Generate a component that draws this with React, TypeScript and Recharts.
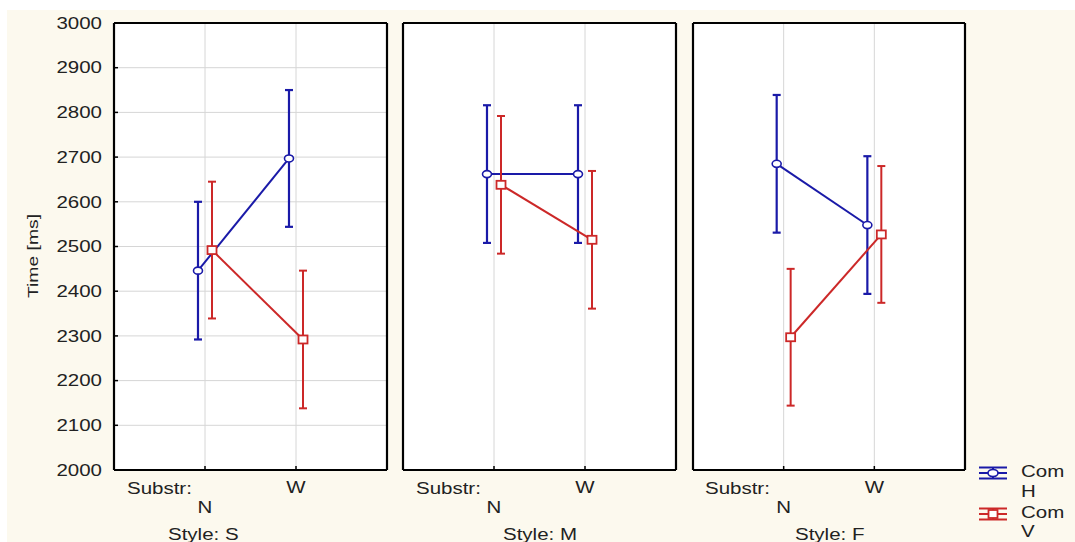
import React from 'react';
import { CartesianGrid, ComposedChart, ErrorBar, Line, XAxis, YAxis } from 'recharts';

const styles = ['S', 'M', 'F'];
const levels = ['N', 'W'];
const yTicks = [2000, 2100, 2200, 2300, 2400, 2500, 2600, 2700, 2800, 2900, 3000];

// means per style (S, M, F), each over levels N, W
const hMeans = [
  [2446, 2697],
  [2662, 2662],
  [2685, 2548]
];
const vMeans = [
  [2492, 2292],
  [2638, 2515],
  [2297, 2527]
];
const hErr = [
  [154, 153],
  [154, 154],
  [154, 154]
];
const vErr = [
  [153, 154],
  [154, 154],
  [153, 153]
];

const palette = {
  blue: '#1a1aa8',
  red: '#cc2828',
  ink: '#222',
  grid: '#d6d6d6',
  paper: '#fcf9ee'
};

const font = '"Liberation Sans", Arial, sans-serif';
const stretch = 1.28;
const jitter = 0.077;

const buildSeries = (means: number[], errs: number[], shift: number) =>
  levels.map((lv, i) => ({ x: i + 1 + shift, level: lv, mean: means[i], err: errs[i] }));

const YTick = (props: any) => {
  const { x, y, payload } = props;
  return (
    <text
      transform={`translate(${x},${y}) scale(${stretch},1)`}
      textAnchor="end"
      dy="0.36em"
      fontSize={16}
      fontFamily={font}
      fill={palette.ink}
    >
      {payload.value}
    </text>
  );
};

const XTick = (props: any) => {
  const { x, payload } = props;
  const label = levels[Math.round(payload.value) - 1];
  const yy = label === 'N' ? 507.5 : 487.5;
  return (
    <text
      transform={`translate(${x},${yy}) scale(${stretch},1)`}
      textAnchor="middle"
      dy="0.36em"
      fontSize={16}
      fontFamily={font}
      fill={palette.ink}
    >
      {label}
    </text>
  );
};

const BlueDot = (props: any) => {
  const { cx, cy } = props;
  if (cx == null || cy == null) return null;
  return <ellipse cx={cx} cy={cy} rx={4.5} ry={3.5} fill="#fff" stroke={palette.blue} strokeWidth={1.6} />;
};

const RedDot = (props: any) => {
  const { cx, cy } = props;
  if (cx == null || cy == null) return null;
  return <rect x={cx - 4.5} y={cy - 4} width={9} height={8} fill="#fff" stroke={palette.red} strokeWidth={1.8} />;
};

const border = { stroke: '#000', strokeWidth: 2.2 };
const tickMark = { stroke: '#000', strokeWidth: 1.5 };

function Panel({ idx, left, width, showY }: { idx: number; left: number; width: number; showY: boolean }) {
  const blue = buildSeries(hMeans[idx], hErr[idx], -jitter);
  const red = buildSeries(vMeans[idx], vErr[idx], jitter);
  return (
    <div style={{ position: 'absolute', left, top: 0 }}>
      <ComposedChart width={width} height={542} margin={{ top: 22, right: 9, bottom: 71, left: showY ? 0 : 9 }}>
        <CartesianGrid stroke={palette.grid} fill="#fff" fillOpacity={1} />
        <XAxis
          type="number"
          dataKey="x"
          domain={[0, 3]}
          ticks={[1, 2]}
          height={1}
          axisLine={border}
          tickLine={tickMark}
          tickSize={-4}
          tickMargin={4}
          tick={<XTick />}
          interval={0}
        />
        <XAxis
          xAxisId="top"
          orientation="top"
          type="number"
          domain={[0, 3]}
          ticks={[1, 2]}
          height={1}
          axisLine={border}
          tickLine={tickMark}
          tickSize={-4}
          tick={false}
        />
        <YAxis
          type="number"
          domain={[2000, 3000]}
          ticks={yTicks}
          width={showY ? 114 : 1}
          axisLine={border}
          tickLine={tickMark}
          tickSize={-4}
          tickMargin={16}
          tick={showY ? <YTick /> : false}
          interval={0}
          allowDataOverflow
        />
        <YAxis
          yAxisId="r"
          orientation="right"
          type="number"
          domain={[2000, 3000]}
          ticks={yTicks}
          width={1}
          axisLine={border}
          tickLine={tickMark}
          tickSize={-4}
          tick={false}
        />
        <Line
          data={blue}
          dataKey="mean"
          type="linear"
          stroke={palette.blue}
          strokeWidth={2}
          dot={<BlueDot />}
          activeDot={false}
          isAnimationActive={false}
        >
          <ErrorBar dataKey="err" direction="y" width={4} stroke={palette.blue} strokeWidth={2.2} />
        </Line>
        <Line
          data={red}
          dataKey="mean"
          type="linear"
          stroke={palette.red}
          strokeWidth={2}
          dot={<RedDot />}
          activeDot={false}
          isAnimationActive={false}
        >
          <ErrorBar dataKey="err" direction="y" width={4} stroke={palette.red} strokeWidth={2} />
        </Line>
      </ComposedChart>
    </div>
  );
}

const label = (text: string, left: number, top: number, color = palette.ink) => (
  <div
    key={text + left + top}
    style={{
      position: 'absolute',
      left,
      top,
      fontSize: 16,
      lineHeight: '16px',
      fontFamily: font,
      color,
      whiteSpace: 'nowrap',
      transform: `scaleX(${stretch})`,
      transformOrigin: 'left center'
    }}
  >
    {text}
  </div>
);

const LegendIcon = ({ color, square }: { color: string; square: boolean }) => (
  <svg width={30} height={14} style={{ display: 'block' }}>
    <line x1={1} x2={29} y1={1.5} y2={1.5} stroke={color} strokeWidth={2} />
    <line x1={1} x2={29} y1={7} y2={7} stroke={color} strokeWidth={2} />
    <line x1={1} x2={29} y1={12.5} y2={12.5} stroke={color} strokeWidth={2} />
    <line x1={15} x2={15} y1={1} y2={13} stroke={color} strokeWidth={2} />
    {square ? (
      <rect x={10.5} y={3} width={9} height={8} fill="#fff" stroke={color} strokeWidth={1.8} />
    ) : (
      <ellipse cx={15} cy={7} rx={5} ry={3.5} fill="#fff" stroke={color} strokeWidth={1.6} />
    )}
  </svg>
);

export default function App() {
  const panelLefts = [0, 393, 683];
  const panelWidths = [397, 293, 292];
  const substrLefts = [127, 416, 705];
  const styleLefts = [168, 503, 795];
  return (
    <div style={{ position: 'relative', width: 1075, height: 542, background: '#fff', overflow: 'hidden' }}>
      <style>{'body{margin:0;overflow:hidden}'}</style>
      <div style={{ position: 'absolute', left: 7, top: 10, right: 0, bottom: 0, background: palette.paper }} />
      {styles.map((s, i) => (
        <Panel key={s} idx={i} left={panelLefts[i]} width={panelWidths[i]} showY={i === 0} />
      ))}
      {styles.map((s, i) => label('Substr:', substrLefts[i], 481))}
      {styles.map((s, i) => label(`Style: ${s}`, styleLefts[i], 527))}
      <svg width={60} height={542} style={{ position: 'absolute', left: 0, top: 0 }}>
        <text
          x={33}
          y={256}
          transform="rotate(-90, 33, 256)"
          textAnchor="middle"
          dy="0.35em"
          fontSize={15}
          fontFamily={font}
          fill={palette.ink}
          textLength={84}
          lengthAdjust="spacingAndGlyphs"
        >
          Time [ms]
        </text>
      </svg>
      <div style={{ position: 'absolute', left: 978, top: 466 }}>
        <LegendIcon color={palette.blue} square={false} />
      </div>
      <div style={{ position: 'absolute', left: 978, top: 507 }}>
        <LegendIcon color={palette.red} square={true} />
      </div>
      {label('Com', 1021, 464)}
      {label('H', 1021, 484)}
      {label('Com', 1021, 505)}
      {label('V', 1021, 524)}
    </div>
  );
}
